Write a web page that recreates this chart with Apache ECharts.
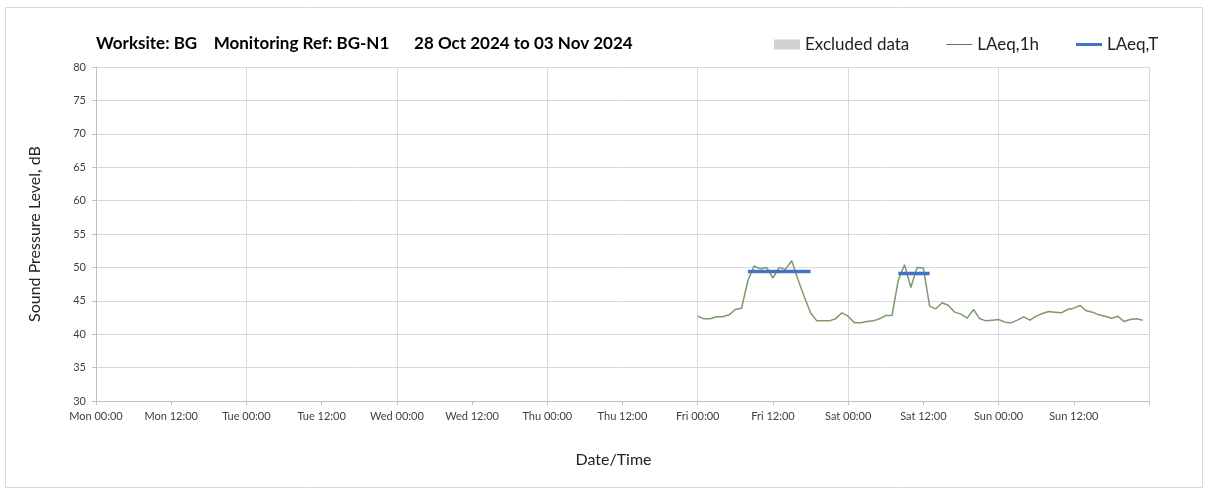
<!DOCTYPE html>
<html>
<head>
<meta charset="utf-8">
<title>BG-N1 noise monitoring</title>
<script src="https://cdn.jsdelivr.net/npm/echarts@6/dist/echarts.min.js"></script>
<style>
  html, body { margin: 0; padding: 0; background: #fff; }
  #chart { width: 1208px; height: 493px; }
</style>
</head>
<body>
<div id="chart"></div>
<script>
// x positions are hours from Mon 28 Oct 2024 00:00
const tickLabels = [
  'Mon 00:00', 'Mon 12:00', 'Tue 00:00', 'Tue 12:00', 'Wed 00:00', 'Wed 12:00',
  'Thu 00:00', 'Thu 12:00', 'Fri 00:00', 'Fri 12:00', 'Sat 00:00', 'Sat 12:00',
  'Sun 00:00', 'Sun 12:00'
];

// hourly LAeq,1h from Fri 00:00 (hour 96) to Sun 23:00
const firstHour = 96;
const laeq1h = [
  42.7, 42.3, 42.3, 42.6, 42.6, 42.9, 43.7, 43.9, 48.0, 50.2, 49.8, 50.0,
  48.4, 50.0, 49.7, 51.0, 48.2, 45.6, 43.2, 42.0, 42.0, 42.0, 42.3, 43.2,
  42.7, 41.7, 41.7, 41.9, 42.0, 42.3, 42.8, 42.8, 48.1, 50.4, 47.0, 50.0,
  49.9, 44.2, 43.8, 44.7, 44.3, 43.3, 43.0, 42.4, 43.7, 42.3, 42.0, 42.1,
  42.2, 41.8, 41.7, 42.1, 42.6, 42.1, 42.7, 43.1, 43.4, 43.3, 43.2, 43.7,
  43.9, 44.3, 43.5, 43.3, 42.9, 42.7, 42.4, 42.7, 41.9, 42.2, 42.3, 42.1
];

// LAeq,T over the working periods
const periodStart = [104, 128]; // Fri 08:00, Sat 08:00
const periodEnd = [114, 133];   // Fri 18:00, Sat 13:00
const periodValue = [49.4, 49.1];

const lineData = laeq1h.map((v, i) => [firstHour + i, v]);
const periodData = [];
periodStart.forEach((s, i) => {
  if (i > 0) periodData.push([s - 1, '-']);
  periodData.push([s, periodValue[i]], [periodEnd[i], periodValue[i]]);
});

const font = 'Lato, "Open Sans", sans-serif';
const chart = echarts.init(document.getElementById('chart'));

chart.setOption({
  animation: false,
  textStyle: { fontFamily: font },
  graphic: [{
    type: 'rect',
    shape: { x: 5.5, y: 7.5, width: 1197, height: 480 },
    style: { fill: 'none', stroke: '#d9d9d9', lineWidth: 1 },
    silent: true
  }],
  title: {
    text: 'Worksite: BG    Monitoring Ref: BG-N1      28 Oct 2024 to 03 Nov 2024',
    left: 91,
    top: 30,
    textStyle: { fontFamily: font, fontSize: 17, fontWeight: 'bold', color: '#000' }
  },
  legend: {
    left: 769,
    top: 31,
    itemWidth: 26,
    itemHeight: 10,
    itemGap: 37,
    textStyle: { fontFamily: font, fontSize: 17, color: '#222' },
    data: [
      { name: 'Excluded data', icon: 'path://M0,0h26v10h-26z' },
      { name: 'LAeq,1h', icon: 'path://M0,0h26v1h-26z' },
      { name: 'LAeq,T', icon: 'path://M0,0h26v3h-26z' }
    ]
  },
  grid: { left: 96, right: 59, top: 67, bottom: 92 },
  xAxis: [{
    type: 'value',
    min: 0,
    max: 168,
    interval: 12,
    name: 'Date/Time',
    nameLocation: 'middle',
    nameGap: 51,
    nameTextStyle: { fontFamily: font, fontSize: 16, color: '#222', padding: [0, 18, 0, 0] },
    axisLine: { lineStyle: { color: '#bfbfbf' } },
    axisTick: { show: true, length: 4, lineStyle: { color: '#bfbfbf' } },
    axisLabel: {
      margin: 10,
      fontSize: 11,
      color: '#404040',
      formatter: v => tickLabels[v / 12] || ''
    },
    splitLine: { show: false }
  }, {
    type: 'value',
    min: 0,
    max: 168,
    interval: 24,
    position: 'bottom',
    axisLine: { show: false },
    axisTick: { show: false },
    axisLabel: { show: false },
    splitLine: { show: true, lineStyle: { color: '#d9d9d9' } }
  }],
  yAxis: {
    type: 'value',
    min: 30,
    max: 80,
    interval: 5,
    name: 'Sound Pressure Level, dB',
    nameLocation: 'middle',
    nameGap: 53,
    nameTextStyle: { fontFamily: font, fontSize: 16, color: '#222' },
    axisLine: { show: true, lineStyle: { color: '#bfbfbf' } },
    axisTick: { show: true, length: 4, lineStyle: { color: '#bfbfbf' } },
    axisLabel: { fontSize: 11, color: '#404040', margin: 10 },
    splitLine: { lineStyle: { color: '#d9d9d9' } }
  },
  series: [
    {
      name: 'Excluded data',
      type: 'line',
      data: [],
      itemStyle: { color: '#d0d0d0' }
    },
    {
      name: 'LAeq,1h',
      type: 'line',
      data: lineData,
      showSymbol: false,
      itemStyle: { color: '#5b7f4a' },
      lineStyle: { color: '#7d9a6c', width: 1.5 },
      z: 2
    },
    {
      name: 'LAeq,T',
      type: 'line',
      data: periodData,
      showSymbol: false,
      connectNulls: false,
      itemStyle: { color: '#4472c4' },
      lineStyle: { color: '#4472c4', width: 3.5 },
      z: 3
    }
  ]
});
</script>
</body>
</html>
